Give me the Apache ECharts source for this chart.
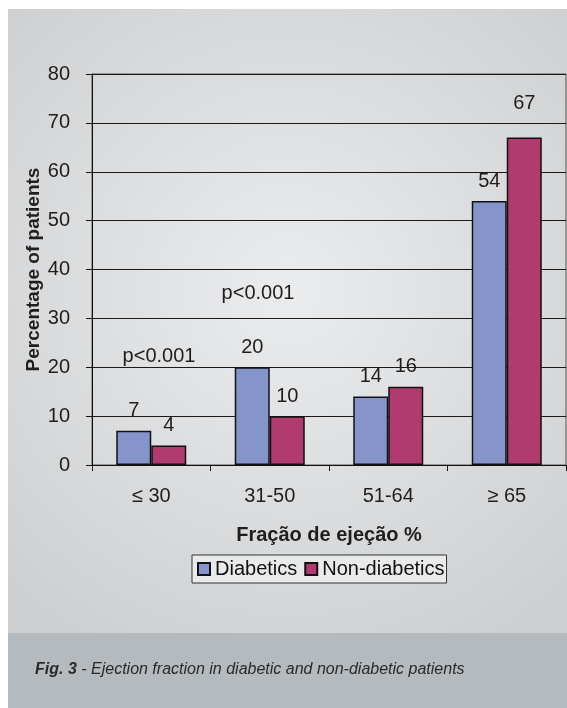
<!DOCTYPE html>
<html>
<head>
<meta charset="utf-8">
<script src="https://cdn.jsdelivr.net/npm/echarts@6/dist/echarts.min.js"></script>
<style>
  html, body { margin: 0; padding: 0; background: #ffffff; }
  #chart { width: 567px; height: 708px; }
</style>
</head>
<body>
<div id="chart"></div>
<script>
// Ejection-fraction groups and share of patients (%) in each
const categories = ['\u2264 30', '31-50', '51-64', '\u2265 65'];
const diabetics = [7, 20, 14, 54];
const nonDiabetics = [4, 10, 16, 67];
const yTicks = { min: 0, max: 80, step: 10 };
const seriesNames = ['Diabetics', 'Non-diabetics'];
const pNotes = ['p<0.001', 'p<0.001'];
const captionBold = 'Fig. 3';
const captionText = ' - Ejection fraction in diabetic and non-diabetic patients';

const FONT = '"Liberation Sans", Arial, sans-serif';
const TXT = '#1e1e1e';

const chart = echarts.init(document.getElementById('chart'), null, { renderer: 'canvas' });

// Lift the last label higher so it clears the 70 grid line
function withLabels(values) {
  return values.map(v => v === 67 ? { value: v, label: { distance: 24 } } : v);
}

const option = {
  animation: false,
  graphic: [
    {
      type: 'rect', z: -10, silent: true,
      shape: { x: 8, y: 9, width: 559, height: 624 },
      style: {
        fill: {
          type: 'radial', x: 0.5, y: 0.45, r: 0.75,
          colorStops: [
            { offset: 0, color: '#ebeced' },
            { offset: 1, color: '#cdced0' }
          ]
        }
      }
    },
    {
      type: 'rect', z: -10, silent: true,
      shape: { x: 8, y: 633, width: 559, height: 75 },
      style: { fill: '#b5babe' }
    },
    {
      type: 'text', left: 35, top: 662, silent: true,
      style: {
        rich: {
          b: { fontFamily: FONT, fontSize: 16, fontWeight: 'bold', fontStyle: 'italic', fill: '#2a2a2a' },
          i: { fontFamily: FONT, fontSize: 16, fontStyle: 'italic', fill: '#2a2a2a' }
        },
        text: '{b|' + captionBold + '}{i|' + captionText + '}'
      }
    },
    {
      type: 'text', silent: true, x: 159, y: 356,
      style: { text: pNotes[0], fontFamily: FONT, fontSize: 20, fill: TXT, align: 'center', verticalAlign: 'middle' }
    },
    {
      type: 'text', silent: true, x: 258, y: 293,
      style: { text: pNotes[1], fontFamily: FONT, fontSize: 20, fill: TXT, align: 'center', verticalAlign: 'middle' }
    }
  ],
  grid: {
    left: 92, top: 74, width: 474, height: 391,
    show: true, borderColor: '#555', borderWidth: 1, backgroundColor: 'transparent'
  },
  legend: {
    data: seriesNames,
    left: 192, top: 555,
    icon: 'rect', itemWidth: 12, itemHeight: 12, itemGap: 7,
    backgroundColor: '#e9eaeb', borderColor: '#333', borderWidth: 1,
    padding: [4, 2, 4, 5],
    textStyle: { fontFamily: FONT, fontSize: 20, color: '#111' }
  },
  xAxis: {
    type: 'category',
    data: categories,
    name: 'Fração de ejeção %',
    nameLocation: 'middle', nameGap: 60, nameMoveOverlap: false,
    nameTextStyle: { fontFamily: FONT, fontSize: 20, fontWeight: 'bold', color: TXT },
    axisLine: { show: true, lineStyle: { color: '#111', width: 1 } },
    axisTick: { show: true, alignWithLabel: false, length: 6, lineStyle: { color: '#111' } },
    axisLabel: { fontFamily: FONT, fontSize: 20, color: TXT, margin: 21 },
    splitLine: { show: false }
  },
  yAxis: {
    type: 'value',
    min: yTicks.min, max: yTicks.max, interval: yTicks.step,
    name: 'Percentage of patients',
    nameLocation: 'middle', nameGap: 49, nameMoveOverlap: false,
    nameTextStyle: { fontFamily: FONT, fontSize: 19, fontWeight: 'bold', color: TXT },
    axisLine: { show: true, lineStyle: { color: '#111', width: 1 } },
    axisTick: { show: true, length: 6, lineStyle: { color: '#111' } },
    axisLabel: { fontFamily: FONT, fontSize: 20, color: TXT, margin: 22 },
    splitLine: { show: true, lineStyle: { color: '#1a1a1a', width: 1 } }
  },
  series: [
    {
      name: seriesNames[0], type: 'bar',
      data: withLabels(diabetics),
      barWidth: 35, barGap: '0%',
      itemStyle: { color: '#8595cc', borderColor: '#111', borderWidth: 1.5 },
      label: { show: true, position: 'top', distance: 10, fontFamily: FONT, fontSize: 20, color: TXT }
    },
    {
      name: seriesNames[1], type: 'bar',
      data: withLabels(nonDiabetics),
      barWidth: 35, barGap: '0%',
      itemStyle: { color: '#b13b6e', borderColor: '#111', borderWidth: 1.5 },
      label: { show: true, position: 'top', distance: 10, fontFamily: FONT, fontSize: 20, color: TXT }
    }
  ]
};

chart.setOption(option);
</script>
</body>
</html>
